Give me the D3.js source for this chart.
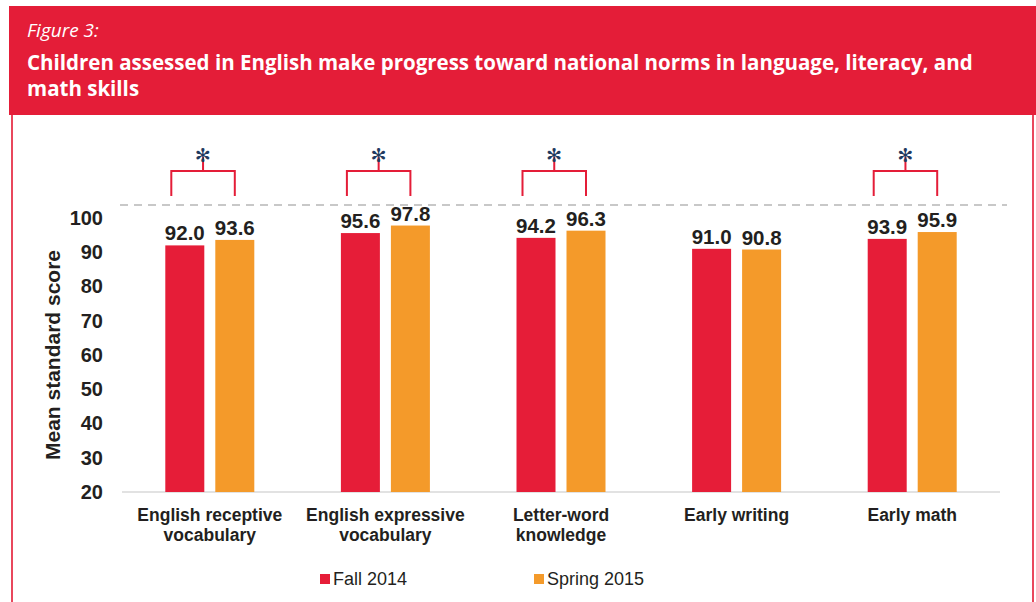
<!DOCTYPE html>
<html>
<head>
<meta charset="utf-8">
<script src="https://cdn.jsdelivr.net/npm/d3@7"></script>
<style>
  body { margin: 0; background: #fff; }
  svg { display: block; }
</style>
</head>
<body>
<svg id="chart" width="1036" height="602"></svg>
<script>
// data
const categories = [["English receptive", "vocabulary"], ["English expressive", "vocabulary"], ["Letter-word", "knowledge"], ["Early writing"], ["Early math"]];
const series = ["Fall 2014", "Spring 2015"];
const fall2014 = [92.0, 95.6, 94.2, 91.0, 93.9];
const spring2015 = [93.6, 97.8, 96.3, 90.8, 95.9];
const significant = [true, true, true, false, true];
const yTicks = [20, 30, 40, 50, 60, 70, 80, 90, 100];
const normLine = 103.8;

const color = ["#e61d38", "#f49a2a"];
const red = "#e41d38";
const textColor = "#231f20";

var svg = d3.select("#chart");

// header box
svg.append("rect")
    .attr("x", 9).attr("y", 6)
    .attr("width", 1036 - 9).attr("height", 109)
    .attr("fill", red);

// frame lines
svg.append("line")
    .attr("x1", 12).attr("x2", 12).attr("y1", 115).attr("y2", 602)
    .attr("stroke", "#e9475c").attr("stroke-width", 2);
svg.append("line")
    .attr("x1", 1033).attr("x2", 1033).attr("y1", 115).attr("y2", 602)
    .attr("stroke", "#e9475c").attr("stroke-width", 2);

svg.append("text")
    .attr("x", 27).attr("y", 37)
    .attr("fill", "#fff")
    .attr("font-family", "'Open Sans', sans-serif")
    .attr("font-style", "italic")
    .attr("font-size", 19)
    .text("Figure 3:");

svg.append("text")
    .attr("x", 27).attr("y", 70)
    .attr("fill", "#fff")
    .attr("font-family", "'Open Sans', sans-serif")
    .attr("font-weight", "bold")
    .attr("font-size", 20.5)
    .text("Children assessed in English make progress toward national norms in language, literacy, and");
svg.append("text")
    .attr("x", 27).attr("y", 96)
    .attr("fill", "#fff")
    .attr("font-family", "'Open Sans', sans-serif")
    .attr("font-weight", "bold")
    .attr("font-size", 20.5)
    .text("math skills");

// scales
var x = d3.scaleBand()
    .domain(d3.range(categories.length))
    .range([122, 1000])
    .padding(0);

var y = d3.scaleLinear()
    .domain([20, 100])
    .range([492, 218]);

// dashed norm line
svg.append("line")
    .attr("x1", 120).attr("x2", 1007)
    .attr("y1", y(normLine)).attr("y2", y(normLine))
    .attr("stroke", "#c8c8c8")
    .attr("stroke-width", 2)
    .attr("stroke-dasharray", "8,6");

// y axis
var yAxis = svg.append("g")
    .attr("transform", "translate(122,0)")
    .call(d3.axisLeft(y).tickValues(yTicks).tickSize(0).tickPadding(19));
yAxis.select(".domain").remove();
yAxis.selectAll("text")
    .attr("font-family", "Arial, 'Liberation Sans', sans-serif")
    .attr("font-weight", "bold")
    .attr("font-size", 20)
    .attr("fill", textColor);

// baseline
svg.append("line")
    .attr("x1", 122).attr("x2", 1000)
    .attr("y1", y(20)).attr("y2", y(20))
    .attr("stroke", "#d9d9d9").attr("stroke-width", 1.5);

// y title
svg.append("text")
    .attr("transform", "translate(60," + ((y(20) + y(100)) / 2) + ") rotate(-90)")
    .attr("text-anchor", "middle")
    .attr("font-family", "Arial, 'Liberation Sans', sans-serif")
    .attr("font-weight", "bold")
    .attr("font-size", 21)
    .attr("fill", textColor)
    .text("Mean standard score");

// bars
const barW = 39, offset = 25;
const rows = categories.map((c, i) => ({ i: i, vals: [fall2014[i], spring2015[i]] }));

var group = svg.selectAll("g.group")
    .data(rows)
    .enter().append("g")
    .attr("class", "group")
    .attr("transform", d => "translate(" + (x(d.i) + x.bandwidth() / 2) + ",0)");

group.selectAll("rect")
    .data(d => d.vals)
    .enter().append("rect")
    .attr("x", (d, j) => (j === 0 ? -offset : offset) - barW / 2)
    .attr("y", d => y(d))
    .attr("width", barW)
    .attr("height", d => y(20) - y(d))
    .attr("fill", (d, j) => color[j]);

group.selectAll("text.val")
    .data(d => d.vals)
    .enter().append("text")
    .attr("class", "val")
    .attr("x", (d, j) => j === 0 ? -offset : offset)
    .attr("y", d => y(d) - 5)
    .attr("text-anchor", "middle")
    .attr("font-family", "Arial, 'Liberation Sans', sans-serif")
    .attr("font-weight", "bold")
    .attr("font-size", 20.5)
    .attr("fill", textColor)
    .text(d => d.toFixed(1));

// category labels
group.append("text")
    .attr("text-anchor", "middle")
    .attr("font-family", "Arial, 'Liberation Sans', sans-serif")
    .attr("font-weight", "bold")
    .attr("font-size", 17.5)
    .attr("fill", textColor)
    .selectAll("tspan")
    .data(d => categories[d.i])
    .enter().append("tspan")
    .attr("x", 0)
    .attr("y", (d, k) => 521 + k * 20)
    .text(d => d);

// significance brackets
var sig = group.filter(d => significant[d.i]);
sig.append("path")
    .attr("d", "M-38.5,196V171H25V196M-6.75,171V157")
    .attr("fill", "none")
    .attr("stroke", red)
    .attr("stroke-width", 2);
sig.append("text")
    .attr("x", -6.75)
    .attr("y", 162)
    .attr("text-anchor", "middle")
    .attr("font-family", "'DejaVu Sans', sans-serif")
    .attr("font-size", 19)
    .attr("fill", "#1f3a60")
    .text("\u273B");

// legend
const legendX = [320, 534];
var legend = svg.selectAll(".legend")
    .data(series)
    .enter().append("g")
    .attr("class", "legend")
    .attr("transform", (d, i) => "translate(" + legendX[i] + ",574)");
legend.append("rect")
    .attr("width", 10).attr("height", 10)
    .attr("fill", (d, i) => color[i]);
legend.append("text")
    .attr("x", 13).attr("y", 10.5)
    .attr("font-family", "Arial, 'Liberation Sans', sans-serif")
    .attr("font-size", 18)
    .attr("fill", textColor)
    .text(d => d);
</script>
</body>
</html>
